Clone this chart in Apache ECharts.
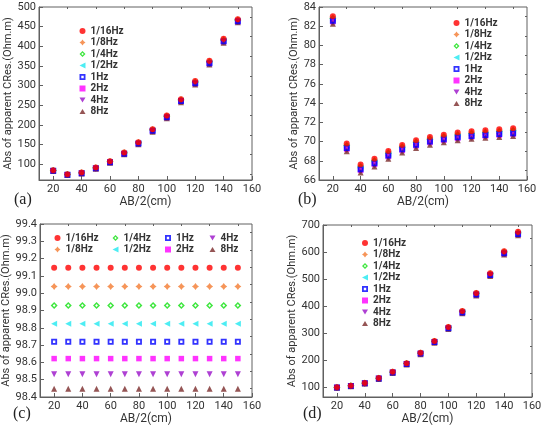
<!DOCTYPE html>
<html>
<head>
<meta charset="utf-8">
<script src="https://cdn.jsdelivr.net/npm/echarts@6/dist/echarts.min.js"></script>
<style>
  html, body { margin: 0; padding: 0; background: #fff; }
  #chart { width: 550px; height: 429px; }
</style>
</head>
<body>
<div id="chart"></div>
<script>
// AB/2 electrode spacing (cm), shared by all four panels
var distance = [20, 30, 40, 50, 60, 70, 80, 90, 100, 110, 120, 130, 140, 150];
var freqNames = ['1/16Hz', '1/8Hz', '1/4Hz', '1/2Hz', '1Hz', '2Hz', '4Hz', '8Hz'];

// panel (a)
var aF16 = [84.7, 74.5, 78.8, 91.6, 107.6, 129.8, 156.0, 189.0, 224.0, 265.6, 311.5, 363.0, 419.0, 469.0];
var aF8  = [84.4, 74.2, 78.4, 91.1, 107.0, 129.1, 155.2, 188.0, 222.9, 264.4, 310.1, 361.4, 417.3, 467.6];
var aF4  = [84.1, 73.9, 78.0, 90.6, 106.4, 128.4, 154.4, 187.0, 221.8, 263.2, 308.8, 360.0, 415.7, 466.4];
var aF2  = [83.8, 73.6, 77.6, 90.1, 105.8, 127.7, 153.6, 186.0, 220.8, 262.0, 307.5, 358.6, 414.2, 465.2];
var a1Hz = [83.5, 73.3, 77.2, 89.6, 105.2, 127.0, 152.8, 185.0, 219.8, 260.9, 306.2, 357.2, 412.8, 464.0];
var a2Hz = [83.3, 73.1, 76.9, 89.2, 104.7, 126.4, 152.1, 184.2, 218.9, 259.9, 305.1, 356.0, 411.5, 463.0];
var a4Hz = [83.1, 72.9, 76.6, 88.8, 104.2, 125.8, 151.4, 183.4, 218.0, 258.9, 304.0, 354.8, 410.3, 462.0];
var a8Hz = [82.9, 72.7, 76.3, 88.4, 103.8, 125.3, 150.8, 182.7, 217.2, 258.0, 303.0, 353.7, 409.2, 461.1];

// panel (b)
var bF16 = [83.03, 69.80, 67.60, 68.20, 69.03, 69.65, 70.14, 70.48, 70.72, 70.93, 71.07, 71.17, 71.28, 71.38];
var bF8  = [82.92, 69.68, 67.48, 68.09, 68.91, 69.53, 70.02, 70.36, 70.60, 70.80, 70.94, 71.04, 71.15, 71.25];
var bF4  = [82.81, 69.56, 67.36, 67.97, 68.79, 69.42, 69.90, 70.24, 70.48, 70.67, 70.81, 70.91, 71.02, 71.12];
var bF2  = [82.70, 69.45, 67.25, 67.86, 68.68, 69.31, 69.79, 70.13, 70.37, 70.55, 70.69, 70.79, 70.89, 70.99];
var b1Hz = [82.58, 69.33, 67.13, 67.75, 68.56, 69.19, 69.67, 70.01, 70.25, 70.44, 70.58, 70.68, 70.78, 70.87];
var b2Hz = [82.47, 69.21, 67.01, 67.63, 68.44, 69.08, 69.56, 69.90, 70.14, 70.33, 70.48, 70.58, 70.67, 70.77];
var b4Hz = [82.36, 69.10, 66.90, 67.52, 68.32, 68.96, 69.44, 69.79, 70.04, 70.23, 70.38, 70.49, 70.57, 70.67];
var b8Hz = [82.25, 68.98, 66.78, 67.40, 68.20, 68.85, 69.33, 69.68, 69.93, 70.13, 70.28, 70.40, 70.48, 70.58];

// panel (c)
var cF16 = [99.147, 99.147, 99.147, 99.147, 99.147, 99.147, 99.147, 99.147, 99.147, 99.147, 99.147, 99.147, 99.147, 99.147];
var cF8  = [99.039, 99.039, 99.039, 99.039, 99.039, 99.039, 99.039, 99.039, 99.039, 99.039, 99.039, 99.039, 99.039, 99.039];
var cF4  = [98.929, 98.929, 98.929, 98.929, 98.929, 98.929, 98.929, 98.929, 98.929, 98.929, 98.929, 98.929, 98.929, 98.929];
var cF2  = [98.823, 98.823, 98.823, 98.823, 98.823, 98.823, 98.823, 98.823, 98.823, 98.823, 98.823, 98.823, 98.823, 98.823];
var c1Hz = [98.719, 98.719, 98.719, 98.719, 98.719, 98.719, 98.719, 98.719, 98.719, 98.719, 98.719, 98.719, 98.719, 98.719];
var c2Hz = [98.622, 98.622, 98.622, 98.622, 98.622, 98.622, 98.622, 98.622, 98.622, 98.622, 98.622, 98.622, 98.622, 98.622];
var c4Hz = [98.531, 98.531, 98.531, 98.531, 98.531, 98.531, 98.531, 98.531, 98.531, 98.531, 98.531, 98.531, 98.531, 98.531];
var c8Hz = [98.448, 98.448, 98.448, 98.448, 98.448, 98.448, 98.448, 98.448, 98.448, 98.448, 98.448, 98.448, 98.448, 98.448];

// panel (d)
var dF16 = [100.0, 106.0, 116.0, 134.0, 157.0, 189.0, 228.0, 271.0, 323.0, 382.0, 449.0, 522.0, 603.0, 675.0];
var dF8  = [99.7, 105.7, 115.6, 133.5, 156.4, 188.3, 227.1, 270.0, 321.8, 380.6, 447.4, 520.2, 601.0, 672.8];
var dF4  = [99.4, 105.4, 115.2, 133.0, 155.8, 187.6, 226.2, 269.0, 320.7, 379.3, 445.9, 518.5, 599.1, 670.7];
var dF2  = [99.1, 105.1, 114.8, 132.5, 155.2, 186.9, 225.3, 268.0, 319.6, 378.0, 444.4, 516.8, 597.2, 668.7];
var d1Hz = [98.8, 104.8, 114.4, 132.0, 154.6, 186.2, 224.5, 267.1, 318.5, 376.8, 443.0, 515.2, 595.4, 666.8];
var d2Hz = [98.6, 104.5, 114.1, 131.6, 154.1, 185.6, 223.8, 266.3, 317.6, 375.7, 441.7, 513.7, 593.7, 665.0];
var d4Hz = [98.4, 104.3, 113.8, 131.2, 153.6, 185.0, 223.1, 265.5, 316.7, 374.7, 440.5, 512.3, 592.1, 663.3];
var d8Hz = [98.2, 104.1, 113.5, 130.8, 153.2, 184.5, 222.5, 264.8, 315.9, 373.7, 439.4, 511.0, 590.6, 661.7];

// tick labels
var xTicks = [20, 40, 60, 80, 100, 120, 140, 160];
var xMinor = [30, 50, 70, 90, 110, 130, 150];
var aTicks = [100, 150, 200, 250, 300, 350, 400, 450, 500];
var aMinor = [75, 125, 175, 225, 275, 325, 375, 425, 475];
var bTicks = [66, 68, 70, 72, 74, 76, 78, 80, 82, 84];
var bMinor = [67, 69, 71, 73, 75, 77, 79, 81, 83];
var cTicks = [98.4, 98.5, 98.6, 98.7, 98.8, 98.9, 99.0, 99.1, 99.2, 99.3, 99.4];
var cMinor = [98.45, 98.55, 98.65, 98.75, 98.85, 98.95, 99.05, 99.15, 99.25, 99.35];
var dTicks = [100, 200, 300, 400, 500, 600, 700];
var dMinor = [150, 250, 350, 450, 550, 650];

var FONT = "'Liberation Sans Narrow', Roboto, 'Liberation Sans', sans-serif";
var AXIS = '#606060';

var panels = [
  { grid: { left: 39, top: 7, width: 213, height: 173 }, ymin: 60, ymax: 500, ticks: aTicks, minor: aMinor,
    values: [aF16, aF8, aF4, aF2, a1Hz, a2Hz, a4Hz, a8Hz], nameGap: 22, dec: 0, tag: '(a)', tagX: 14, tagY: 201 },
  { grid: { left: 319, top: 7, width: 208, height: 173 }, ymin: 66, ymax: 84, ticks: bTicks, minor: bMinor,
    values: [bF16, bF8, bF4, bF2, b1Hz, b2Hz, b4Hz, b8Hz], nameGap: 17, dec: 0, tag: '(b)', tagX: 298, tagY: 201 },
  { grid: { left: 40, top: 224, width: 212, height: 173 }, ymin: 98.4, ymax: 99.4, ticks: cTicks, minor: cMinor,
    values: [cF16, cF8, cF4, cF2, c1Hz, c2Hz, c4Hz, c8Hz], nameGap: 26, dec: 1, tag: '(c)', tagX: 13, tagY: 415 },
  { grid: { left: 323, top: 225, width: 209, height: 172 }, ymin: 64, ymax: 700, ticks: dTicks, minor: dMinor,
    values: [dF16, dF8, dF4, dF2, d1Hz, d2Hz, d4Hz, d8Hz], nameGap: 22, dec: 0, tag: '(d)', tagX: 303, tagY: 415 }
];

// marker shapes (hollow ones are drawn as paths with a reversed inner contour)
var star = 'path://M0,-10 L4.2,-4.2 L10,0 L4.2,4.2 L0,10 L-4.2,4.2 L-10,0 L-4.2,-4.2 Z';
var ringDiamond = 'path://M0,-10 L10,0 L0,10 L-10,0 Z M0,-4 L-4,0 L0,4 L4,0 Z';
var ringSquare = 'path://M-10,-10 L10,-10 L10,10 L-10,10 Z M-4,-4 L-4,4 L4,4 L4,-4 Z';
var triLeft = 'path://M-10,0 L8,-9 L8,9 Z';
var triDown = 'path://M-10,-8 L10,-8 L0,9 Z';
var triUp = 'path://M-10,8 L10,8 L0,-9 Z';
var marks = [
  { symbol: 'circle', size: 6, color: '#ff0000', z: 5 },
  { symbol: star, size: 7, color: '#f47a30' },
  { symbol: ringDiamond, size: 7, color: '#10e010' },
  { symbol: triLeft, size: 6, color: '#20e8f0' },
  { symbol: ringSquare, size: 6, color: '#0000ff', z: 4 },
  { symbol: 'rect', size: 5.5, color: '#ff00ff' },
  { symbol: triDown, size: 6, color: '#9a10c8' },
  { symbol: triUp, size: 6, color: '#7a2a2a' }
];

var chart = echarts.init(document.getElementById('chart'));

var grids = [], xAxes = [], yAxes = [], series = [], graphics = [];

panels.forEach(function (p, pi) {
  grids.push(Object.assign({ show: true, borderColor: AXIS, borderWidth: 1, outerBoundsMode: 'none' }, p.grid));
  xAxes.push({
    gridIndex: pi, type: 'value', min: 10, max: 160,
    name: 'AB/2(cm)', nameLocation: 'middle', nameGap: 15,
    nameTextStyle: { fontSize: 12, color: '#333', fontFamily: FONT },
    axisLine: { lineStyle: { color: AXIS, width: 1 } },
    axisTick: { inside: true, length: 4, customValues: xTicks, lineStyle: { color: AXIS } },
    axisLabel: { customValues: xTicks, margin: 4, fontSize: 11, color: '#333', fontFamily: FONT },
    splitLine: { show: false }
  });
  yAxes.push({
    gridIndex: pi, type: 'value', min: p.ymin, max: p.ymax,
    name: 'Abs of apparent CRes.(Ohm.m)', nameLocation: 'middle', nameGap: p.nameGap,
    nameTextStyle: { fontSize: 11, color: '#333', fontFamily: FONT },
    axisLine: { show: true, lineStyle: { color: AXIS, width: 1 } },
    axisTick: { show: true, inside: true, length: 4, customValues: p.ticks, lineStyle: { color: AXIS } },
    axisLabel: {
      customValues: p.ticks, margin: 3, fontSize: 11, color: '#333', fontFamily: FONT,
      formatter: (function (dec) { return function (v) { return v.toFixed(dec); }; })(p.dec)
    },
    splitLine: { show: false }
  });
  p.values.forEach(function (vals, fi) {
    var m = marks[fi];
    series.push({
      name: freqNames[fi], type: 'scatter', xAxisIndex: pi, yAxisIndex: pi,
      symbol: m.symbol, symbolSize: m.size,
      itemStyle: { color: m.color },
      z: m.z || 2, silent: true, emphasis: { disabled: true },
      data: distance.map(function (d, k) { return [d, vals[k]]; })
    });
  });
  graphics.push({
    type: 'text', left: p.tagX, top: p.tagY - 9,
    style: { text: p.tag, fontSize: 16, fontFamily: "'Liberation Serif', 'DejaVu Serif', serif", fill: '#222' }
  });
});

// minor tick overlay axes
panels.forEach(function (p, pi) {
  xAxes.push({
    gridIndex: pi, type: 'value', min: 10, max: 160,
    axisLine: { show: false }, axisLabel: { show: false }, splitLine: { show: false },
    axisTick: { show: true, inside: true, length: 2, customValues: xMinor, lineStyle: { color: AXIS } }
  });
  yAxes.push({
    gridIndex: pi, type: 'value', min: p.ymin, max: p.ymax,
    axisLine: { show: false }, axisLabel: { show: false }, splitLine: { show: false },
    axisTick: { show: true, inside: true, length: 2, customValues: p.minor, lineStyle: { color: AXIS } }
  });
});

var legendBase = {
  orient: 'vertical', itemWidth: 6, itemHeight: 6, itemGap: 1.5, selectedMode: false,
  textStyle: { fontSize: 10, fontWeight: 'bold', color: '#333', fontFamily: FONT },
  padding: 0
};
var legendSpots = [
  { left: 79.5, top: 26, data: freqNames },
  { left: 453.5, top: 18, data: freqNames },
  { left: 362, top: 238, data: freqNames },
  { left: 54.5, top: 233, data: ['1/16Hz', '1/8Hz'] },
  { left: 112.5, top: 233, data: ['1/4Hz', '1/2Hz'] },
  { left: 165, top: 233, data: ['1Hz', '2Hz'] },
  { left: 209.5, top: 233, data: ['4Hz', '8Hz'] }
];
var legends = legendSpots.map(function (s) { return Object.assign({}, legendBase, s); });

chart.setOption({
  animation: false,
  backgroundColor: '#fff',
  grid: grids,
  xAxis: xAxes,
  yAxis: yAxes,
  legend: legends,
  graphic: graphics,
  series: series
});
window.addEventListener('resize', function () { chart.resize(); });
</script>
</body>
</html>
